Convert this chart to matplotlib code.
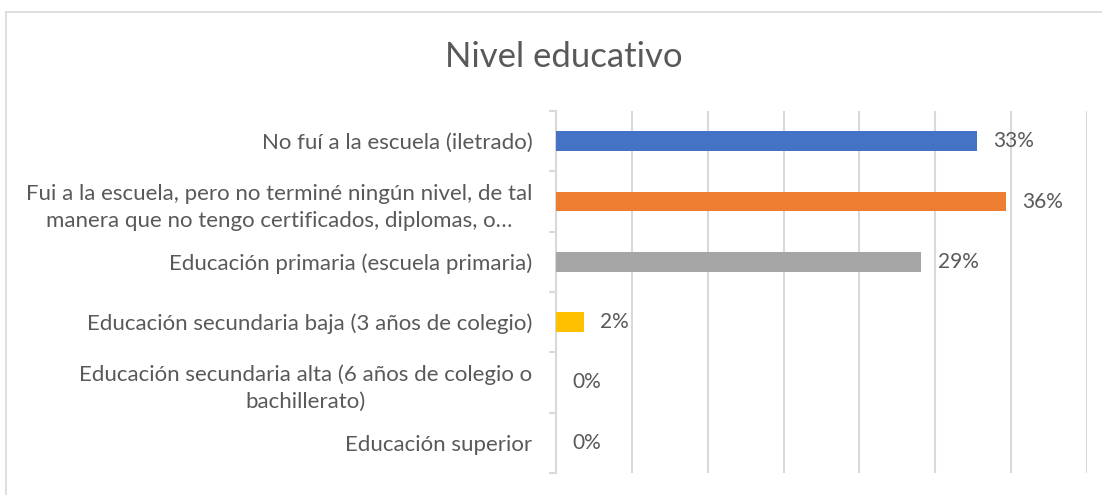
import matplotlib
matplotlib.use("Agg")
import matplotlib.pyplot as plt
from matplotlib.lines import Line2D

# data
categories = [
    "No fuí a la escuela (iletrado)",
    "Fui a la escuela, pero no terminé ningún nivel, de tal\nmanera que no tengo certificados, diplomas, o…",
    "Educación primaria (escuela primaria)",
    "Educación secundaria baja (3 años de colegio)",
    "Educación secundaria alta (6 años de colegio o\nbachillerato)",
    "Educación superior",
]
values = [0.333, 0.356, 0.289, 0.022, 0.0, 0.0]
labels = ["33%", "36%", "29%", "2%", "0%", "0%"]
colors = ["#4472C4", "#ED7D31", "#A5A5A5", "#FFC000", "#5B9BD5", "#70AD47"]

text_col = "#595959"
grid_col = "#D9D9D9"
plt.rcParams["font.family"] = ["Lato", "DejaVu Sans"]

fig = plt.figure(figsize=(11.02, 4.95), dpi=100)

# thin chart border (top and left edges visible)
fig.add_artist(Line2D([6/1102, 1], [1 - 12/495, 1 - 12/495], color=grid_col, lw=1.2))
fig.add_artist(Line2D([6/1102, 6/1102], [0, 1 - 12/495], color=grid_col, lw=1.2))

fig.text(564/1102, 1 - 57/495, "Nivel educativo", ha="center", va="center",
         fontsize=25, color=text_col)

ax = fig.add_axes([556/1102, 22/495, 531/1102, 362/495])
y = list(range(len(categories)))
ax.barh(y, values, height=0.33, color=colors, zorder=3)
for yi, v, lab in zip(y, values, labels):
    ax.text(v + 0.013, yi, lab, va="center", ha="left", fontsize=15, color=text_col)

ax.set_xlim(0, 0.42)
ax.set_ylim(len(categories) - 0.5, -0.5)
ax.set_xticks([0.06 * i for i in range(1, 8)])
ax.tick_params(axis="x", length=0, labelbottom=False)
ax.grid(axis="x", color=grid_col, lw=1.5, zorder=0)

ax.set_yticks(y)
ax.set_yticklabels(categories, fontsize=16, color=text_col,
                   multialignment="center", linespacing=1.45)
ax.set_yticks([i - 0.5 for i in range(len(categories) + 1)], minor=True)
ax.tick_params(axis="y", which="major", length=0, pad=17)
ax.tick_params(axis="y", which="minor", length=5, color=grid_col, width=1.5)

for s in ["top", "right", "bottom"]:
    ax.spines[s].set_visible(False)
ax.spines["left"].set_color(grid_col)
ax.spines["left"].set_linewidth(1.5)

fig.savefig("out.png", dpi=100)
